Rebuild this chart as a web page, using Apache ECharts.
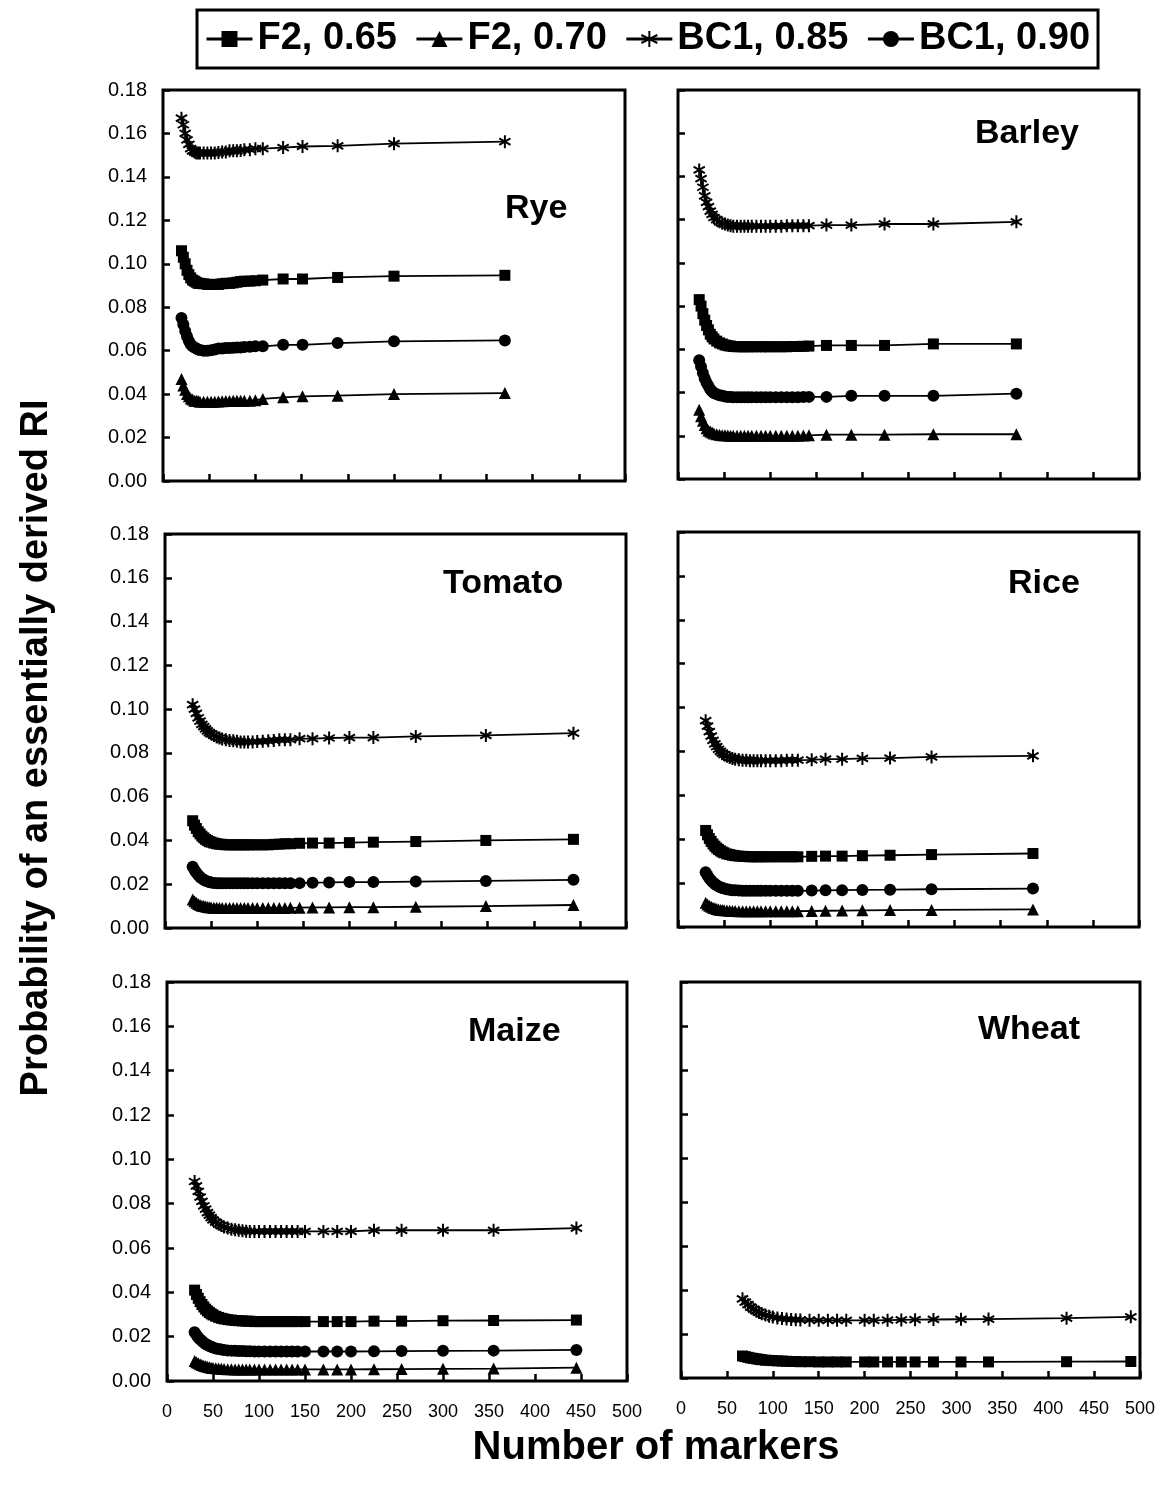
<!DOCTYPE html>
<html><head><meta charset="utf-8">
<script src="https://cdn.jsdelivr.net/npm/echarts@6/dist/echarts.min.js"></script>
<style>html,body{margin:0;padding:0;background:#fff}#c{width:1164px;height:1494px}</style>
</head><body><div id="c"></div>
<script>
// ---------- DATA ----------
const seriesNames = ['F2, 0.65', 'F2, 0.70', 'BC1, 0.85', 'BC1, 0.90'];
const crops = ['Rye', 'Barley', 'Tomato', 'Rice', 'Maize', 'Wheat'];
const yTicks = [0, 0.02, 0.04, 0.06, 0.08, 0.10, 0.12, 0.14, 0.16, 0.18];
const xTicks = [0, 50, 100, 150, 200, 250, 300, 350, 400, 450, 500];

const ryeX = [20,22,24,26,28,30,32,34,36,38,40,44,48,52,56,60,64,68,72,76,80,84,88,94,100,108,130,151,189,250,370];
const ryeF265 = [0.106,0.103,0.100,0.097,0.095,0.0935,0.0925,0.092,0.0915,0.091,0.091,0.0908,0.0905,0.0905,0.0905,0.0905,0.0908,0.091,0.091,0.0912,0.0915,0.0918,0.092,0.092,0.0922,0.0925,0.093,0.093,0.0937,0.0943,0.0947];
const ryeF270 = [0.047,0.044,0.042,0.040,0.039,0.038,0.0375,0.037,0.037,0.0368,0.0365,0.0365,0.0365,0.0365,0.0365,0.0366,0.0367,0.0368,0.0368,0.0369,0.037,0.037,0.037,0.037,0.0372,0.0378,0.0385,0.039,0.0393,0.040,0.0405];
const ryeBC85 = [0.167,0.164,0.160,0.157,0.155,0.153,0.152,0.1515,0.151,0.151,0.151,0.151,0.151,0.151,0.151,0.1512,0.1515,0.1515,0.152,0.152,0.152,0.1522,0.1525,0.1525,0.153,0.153,0.1535,0.154,0.1543,0.1553,0.1562];
const ryeBC90 = [0.075,0.072,0.069,0.0665,0.0645,0.063,0.062,0.0615,0.061,0.0605,0.0603,0.060,0.060,0.0602,0.0605,0.061,0.061,0.0612,0.0612,0.0613,0.0615,0.0615,0.0617,0.0618,0.062,0.062,0.0627,0.0627,0.0635,0.0643,0.0647];

const barleyX = [23,25,27,29,31,33,35,37,39,42,45,48,51,54,57,60,64,68,72,76,80,85,90,95,100,106,112,118,124,130,136,142,161,188,224,277,367];
const barleyF265 = [0.083,0.080,0.0765,0.0735,0.071,0.069,0.067,0.0658,0.0648,0.0638,0.063,0.0625,0.062,0.0617,0.0615,0.0613,0.0612,0.0612,0.0612,0.0612,0.0612,0.0612,0.0612,0.0612,0.0612,0.0612,0.0612,0.0612,0.0613,0.0613,0.0614,0.0615,0.0618,0.0618,0.0618,0.0625,0.0625];
const barleyF270 = [0.032,0.029,0.027,0.025,0.0235,0.0225,0.022,0.0215,0.021,0.0207,0.0205,0.0203,0.0202,0.0201,0.020,0.020,0.020,0.020,0.020,0.020,0.020,0.020,0.020,0.020,0.020,0.020,0.020,0.020,0.020,0.020,0.0201,0.0202,0.0205,0.0205,0.0205,0.0207,0.0207];
const barleyBC85 = [0.143,0.139,0.135,0.131,0.128,0.126,0.124,0.1225,0.121,0.120,0.119,0.1183,0.118,0.1175,0.1172,0.117,0.117,0.117,0.117,0.117,0.117,0.117,0.117,0.117,0.117,0.117,0.117,0.1172,0.1172,0.1172,0.1172,0.1172,0.1175,0.1175,0.118,0.118,0.119];
const barleyBC90 = [0.055,0.052,0.049,0.0465,0.0445,0.043,0.0415,0.0405,0.0398,0.0392,0.0388,0.0385,0.0382,0.038,0.038,0.0378,0.0378,0.0378,0.0378,0.0378,0.0378,0.0378,0.0378,0.0378,0.0378,0.0378,0.0378,0.0378,0.0378,0.0378,0.0379,0.038,0.038,0.0385,0.0385,0.0385,0.0395];

const tomatoX = [30,32,34,36,38,40,42,44,46,48,50,53,56,59,62,66,70,74,78,82,86,90,95,100,106,112,118,124,130,136,146,160,178,200,226,272,348,443];
const tomatoF265 = [0.049,0.047,0.0455,0.044,0.043,0.042,0.0412,0.0405,0.040,0.0395,0.0392,0.0388,0.0385,0.0383,0.0382,0.038,0.038,0.038,0.038,0.038,0.038,0.038,0.038,0.038,0.038,0.038,0.0382,0.0383,0.0385,0.0385,0.0387,0.0388,0.0388,0.039,0.0392,0.0395,0.040,0.0405];
const tomatoF270 = [0.013,0.0122,0.0115,0.011,0.0105,0.0102,0.010,0.0098,0.0096,0.0095,0.0094,0.0093,0.0092,0.0091,0.0091,0.0091,0.0091,0.0091,0.0091,0.0091,0.0091,0.0091,0.0091,0.0091,0.0091,0.0091,0.0091,0.0091,0.0091,0.0092,0.0093,0.0094,0.0094,0.0095,0.0095,0.0097,0.010,0.0105];
const tomatoBC85 = [0.102,0.100,0.098,0.096,0.0945,0.093,0.092,0.091,0.090,0.0893,0.0887,0.088,0.0873,0.0868,0.0863,0.086,0.0857,0.0855,0.0853,0.085,0.085,0.085,0.085,0.0852,0.0853,0.0855,0.0857,0.086,0.086,0.086,0.0865,0.0865,0.0868,0.087,0.087,0.0875,0.088,0.089];
const tomatoBC90 = [0.028,0.0265,0.0252,0.0242,0.0233,0.0226,0.022,0.0216,0.0213,0.021,0.0208,0.0206,0.0205,0.0204,0.0204,0.0204,0.0204,0.0204,0.0204,0.0204,0.0204,0.0204,0.0204,0.0204,0.0204,0.0204,0.0204,0.0204,0.0204,0.0204,0.0205,0.0207,0.0208,0.021,0.021,0.0212,0.0215,0.022];

const riceX = [30,32,34,36,38,40,42,44,46,48,50,53,56,59,62,66,70,74,78,82,86,90,95,100,106,112,118,124,130,145,160,178,200,230,275,385];
const riceF265 = [0.044,0.042,0.0403,0.039,0.0378,0.0368,0.036,0.0353,0.0347,0.0342,0.0338,0.0333,0.033,0.0327,0.0325,0.0323,0.0322,0.0321,0.032,0.032,0.032,0.032,0.032,0.032,0.032,0.032,0.032,0.032,0.032,0.0322,0.0323,0.0323,0.0325,0.0327,0.033,0.0335];
const riceF270 = [0.011,0.0103,0.0097,0.0092,0.0088,0.0085,0.0082,0.008,0.0078,0.0077,0.0076,0.0075,0.0074,0.0073,0.0073,0.0072,0.0072,0.0072,0.0072,0.0072,0.0072,0.0072,0.0072,0.0072,0.0072,0.0072,0.0072,0.0072,0.0072,0.0073,0.0074,0.0075,0.0076,0.0077,0.0078,0.008];
const riceBC85 = [0.094,0.0915,0.089,0.087,0.085,0.0835,0.0822,0.081,0.080,0.0792,0.0785,0.0778,0.0772,0.0768,0.0765,0.0762,0.076,0.076,0.0758,0.0758,0.0758,0.0758,0.0758,0.0758,0.0758,0.0758,0.076,0.076,0.076,0.0762,0.0765,0.0765,0.0768,0.077,0.0775,0.078];
const riceBC90 = [0.025,0.0235,0.0222,0.0212,0.0203,0.0196,0.019,0.0185,0.0181,0.0178,0.0175,0.0172,0.017,0.0168,0.0167,0.0166,0.0165,0.0165,0.0165,0.0165,0.0165,0.0165,0.0165,0.0165,0.0165,0.0165,0.0165,0.0165,0.0165,0.0166,0.0167,0.0168,0.0169,0.017,0.0172,0.0175];

const maizeX = [30,32,34,36,38,40,42,44,46,48,50,53,56,59,62,66,70,74,78,82,86,90,95,100,106,112,118,124,130,136,142,150,170,185,200,225,255,300,355,445];
const maizeF265 = [0.041,0.039,0.0373,0.0358,0.0345,0.0334,0.0324,0.0316,0.0309,0.0303,0.0298,0.0292,0.0287,0.0283,0.028,0.0277,0.0275,0.0273,0.0272,0.0271,0.027,0.027,0.0268,0.0268,0.0268,0.0268,0.0268,0.0268,0.0268,0.0268,0.0268,0.0268,0.0268,0.0268,0.0268,0.027,0.027,0.0272,0.0273,0.0275];
const maizeF270 = [0.009,0.0085,0.008,0.0076,0.0072,0.0069,0.0066,0.0064,0.0062,0.006,0.0059,0.0057,0.0056,0.0055,0.0054,0.0053,0.0053,0.0052,0.0052,0.0052,0.0052,0.0052,0.0052,0.0052,0.0052,0.0052,0.0052,0.0052,0.0052,0.0052,0.0052,0.0052,0.0052,0.0052,0.0052,0.0053,0.0054,0.0055,0.0056,0.006];
const maizeBC85 = [0.090,0.088,0.0855,0.083,0.081,0.079,0.0775,0.076,0.0748,0.0737,0.0727,0.0717,0.0708,0.0701,0.0695,0.069,0.0685,0.0682,0.068,0.0678,0.0676,0.0675,0.0675,0.0675,0.0675,0.0675,0.0675,0.0675,0.0675,0.0675,0.0675,0.0675,0.0675,0.0675,0.0675,0.068,0.068,0.068,0.068,0.069];
const maizeBC90 = [0.022,0.0207,0.0196,0.0187,0.018,0.0173,0.0167,0.0162,0.0158,0.0154,0.0151,0.0147,0.0144,0.0142,0.014,0.0138,0.0137,0.0136,0.0135,0.0135,0.0134,0.0134,0.0133,0.0133,0.0133,0.0133,0.0133,0.0133,0.0133,0.0133,0.0133,0.0133,0.0133,0.0133,0.0133,0.0134,0.0135,0.0136,0.0137,0.014];

const wheatX = [67,70,73,76,79,82,85,88,92,96,100,105,110,115,120,125,130,140,150,160,170,180,200,210,225,240,255,275,305,335,420,490];
const wheatF265 = [0.010,0.0097,0.0094,0.0091,0.0089,0.0087,0.0085,0.0083,0.0081,0.008,0.0079,0.0078,0.0077,0.0076,0.0075,0.0075,0.0074,0.0074,0.0073,0.0073,0.0073,0.0073,0.0073,0.0073,0.0073,0.0073,0.0073,0.0073,0.0073,0.0073,0.0074,0.0075];
const wheatBC85 = [0.036,0.0345,0.0333,0.0322,0.0313,0.0305,0.0298,0.0292,0.0286,0.0281,0.0277,0.0273,0.027,0.0268,0.0266,0.0265,0.0264,0.0263,0.0262,0.0262,0.0262,0.0262,0.0262,0.0262,0.0263,0.0264,0.0265,0.0266,0.0267,0.0268,0.0272,0.0278];

const panels = [
  {x: ryeX,    s: [ryeF265, ryeF270, ryeBC85, ryeBC90]},
  {x: barleyX, s: [barleyF265, barleyF270, barleyBC85, barleyBC90]},
  {x: tomatoX, s: [tomatoF265, tomatoF270, tomatoBC85, tomatoBC90]},
  {x: riceX,   s: [riceF265, riceF270, riceBC85, riceBC90]},
  {x: maizeX,  s: [maizeF265, maizeF270, maizeBC85, maizeBC90]},
  {x: wheatX,  s: [wheatF265, null, wheatBC85, null]}
];

// ---------- LAYOUT / STYLE ----------
const FONT = '"Liberation Sans", Arial, Helvetica, sans-serif';
const gridPos = [
  {left: 163, top: 90,  width: 462, height: 391},
  {left: 678, top: 90,  width: 461, height: 389},
  {left: 165, top: 534, width: 461, height: 394},
  {left: 678, top: 532, width: 461, height: 395},
  {left: 167, top: 982, width: 460, height: 399},
  {left: 681, top: 982, width: 459, height: 396}
];
const titlePos = [
  {left: 505, top: 192}, {left: 975, top: 117},
  {left: 443, top: 567}, {left: 1008, top: 567},
  {left: 468, top: 1015}, {left: 978, top: 1013}
];
const STAR = 'path://M0,-10L0,10M-8.66,-5L8.66,5M-8.66,5L8.66,-5';
const symbolFor = ['rect', 'triangle', STAR, 'circle'];
const sizeFor = [11, 12, 13, 12];

const grid = gridPos.map(g => Object.assign({show: true, borderColor: '#000', borderWidth: 3, backgroundColor: '#fff'}, g));
const tickStyle = {show: true, inside: true, length: 7, lineStyle: {color: '#000', width: 2.5}};
const xAxis = gridPos.map((g, i) => ({
  type: 'value', gridIndex: i, min: xTicks[0], max: xTicks[xTicks.length - 1], interval: xTicks[1] - xTicks[0],
  axisLine: {show: false}, axisTick: tickStyle, splitLine: {show: false},
  axisLabel: {show: i >= 4, margin: 22, color: '#000', fontFamily: FONT, fontSize: 18}
}));
const yAxis = gridPos.map((g, i) => ({
  type: 'value', gridIndex: i, min: yTicks[0], max: yTicks[yTicks.length - 1], interval: yTicks[1] - yTicks[0],
  axisLine: {show: false}, axisTick: tickStyle, splitLine: {show: false},
  axisLabel: {show: i % 2 === 0, margin: 16, color: '#000', fontFamily: FONT, fontSize: 20,
    formatter: v => v.toFixed(2)}
}));

const series = [];
panels.forEach((p, gi) => {
  p.s.forEach((ys, si) => {
    if (!ys) return;
    const isStar = si === 2;
    series.push({
      name: seriesNames[si], type: 'line', xAxisIndex: gi, yAxisIndex: gi,
      data: p.x.map((x, k) => [x, ys[k]]),
      symbol: symbolFor[si], symbolSize: sizeFor[si], symbolKeepAspect: true,
      showAllSymbol: true, animation: false, z: 3,
      lineStyle: {color: '#000', width: 1.8},
      itemStyle: isStar ? {color: 'rgba(0,0,0,0)', borderColor: '#000', borderWidth: 2}
                        : {color: '#000', borderWidth: 0}
    });
  });
});

const option = {
  backgroundColor: '#fff',
  animation: false,
  textStyle: {fontFamily: FONT, color: '#000'},
  legend: {
    data: seriesNames, top: 10, left: 197, padding: [10, 8],
    itemWidth: 46, itemHeight: 20, itemGap: 18,
    borderColor: '#000', borderWidth: 3,
    lineStyle: {width: 3, color: '#000'},
    textStyle: {fontFamily: FONT, fontWeight: 'bold', fontSize: 38, color: '#000'}
  },
  title: crops.map((c, i) => ({text: c, left: titlePos[i].left, top: titlePos[i].top, padding: 0,
    textStyle: {fontFamily: FONT, fontWeight: 'bold', fontSize: 34, color: '#000'}})),
  grid, xAxis, yAxis, series,
  graphic: [
    {type: 'text', rotation: Math.PI / 2, x: 37, y: 748,
     style: {text: 'Probability of an essentially derived RI', font: 'bold 38px ' + FONT, fill: '#000', textAlign: 'center', textVerticalAlign: 'middle'}},
    {type: 'text', x: 656, y: 1448,
     style: {text: 'Number of markers', font: 'bold 40px ' + FONT, fill: '#000', textAlign: 'center', textVerticalAlign: 'middle'}}
  ]
};
const chart = echarts.init(document.getElementById('c'), null, {renderer: 'canvas'});
chart.setOption(option);
</script></body></html>
